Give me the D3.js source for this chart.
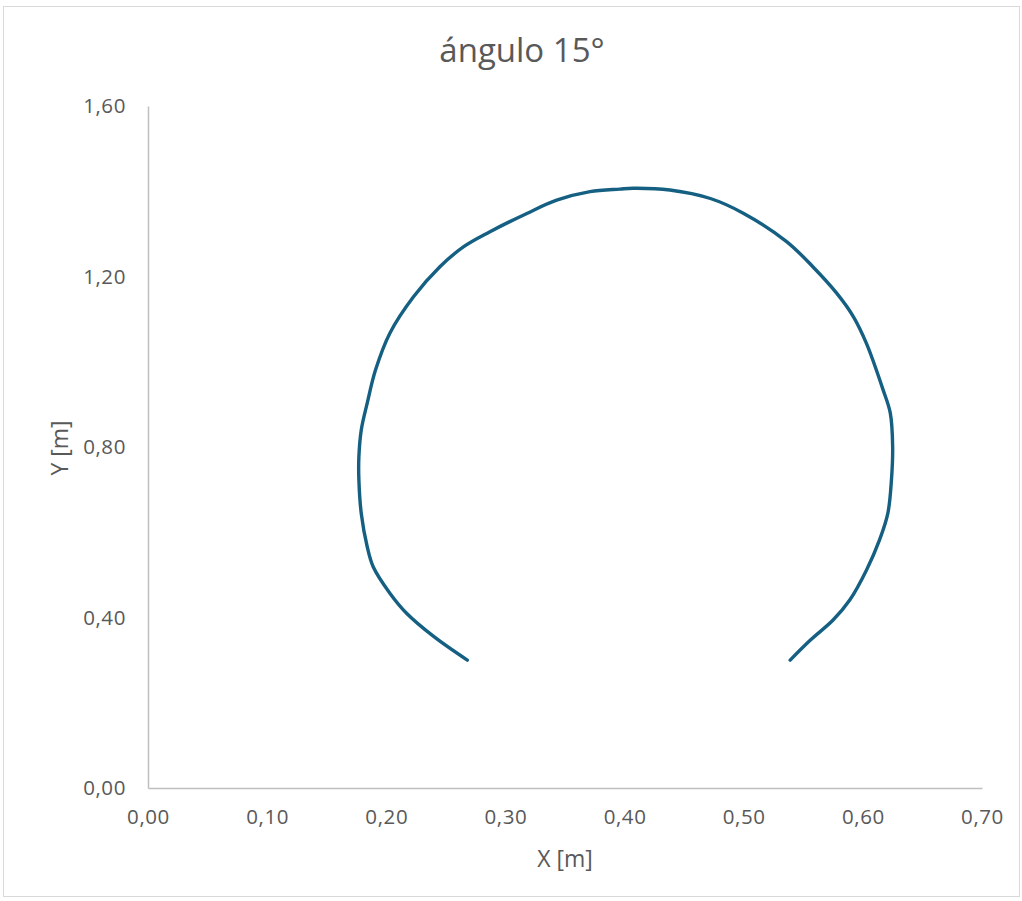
<!DOCTYPE html>
<html>
<head>
<meta charset="utf-8">
<script src="https://cdn.jsdelivr.net/npm/d3@7"></script>
<style>
  body { margin: 0; background: #fff; }
  text { font-family: "Open Sans", "Liberation Sans", sans-serif; }
</style>
</head>
<body>
<svg id="chart" width="1022" height="901"></svg>
<script>
// trajectory points (metres)
const xValues = [0.268, 0.240, 0.217, 0.203, 0.189, 0.184, 0.179, 0.177, 0.177, 0.179,
  0.184, 0.191, 0.203, 0.223, 0.245, 0.265, 0.287, 0.318, 0.343, 0.371, 0.396, 0.407,
  0.438, 0.472, 0.500, 0.536, 0.558, 0.578, 0.592, 0.603, 0.617, 0.623, 0.625, 0.624,
  0.621, 0.614, 0.603, 0.589, 0.575, 0.556, 0.539];
const yValues = [0.300, 0.355, 0.410, 0.457, 0.519, 0.566, 0.644, 0.723, 0.777, 0.840,
  0.903, 0.981, 1.067, 1.153, 1.223, 1.270, 1.305, 1.348, 1.379, 1.399, 1.405, 1.407,
  1.403, 1.383, 1.348, 1.282, 1.223, 1.161, 1.106, 1.043, 0.934, 0.880, 0.801, 0.723,
  0.645, 0.582, 0.511, 0.441, 0.394, 0.347, 0.300];
const xTicks = [0, 0.1, 0.2, 0.3, 0.4, 0.5, 0.6, 0.7];
const yTicks = [0, 0.4, 0.8, 1.2, 1.6];
const title = 'ángulo 15°';

const svg = d3.select('#chart');
const fmt = v => v.toFixed(2).replace('.', ',');

// outer chart border
svg.append('rect')
  .attr('x', 3.5).attr('y', 6.5)
  .attr('width', 1016).attr('height', 890)
  .style('fill', '#fff')
  .style('stroke', '#d9d9d9')
  .style('stroke-width', 1);

const x = d3.scaleLinear().domain([0, 0.7]).range([148, 982]);
const y = d3.scaleLinear().domain([0, 1.6]).range([788, 106]);

// axes
const xAxis = svg.append('g')
  .attr('transform', `translate(0,${y(0)})`)
  .call(d3.axisBottom(x).tickValues(xTicks).tickFormat(fmt).tickSize(0).tickPadding(21));
const yAxis = svg.append('g')
  .attr('transform', `translate(${x(0)},0)`)
  .call(d3.axisLeft(y).tickValues(yTicks).tickFormat(fmt).tickSize(0).tickPadding(22));

[xAxis, yAxis].forEach(a => {
  a.select('.domain').style('stroke', '#bfbfbf').style('stroke-width', 1.5);
  a.selectAll('text')
    .style('font-size', '20.5px')
    .style('letter-spacing', '0.6px')
    .style('fill', '#595959');
});

// curve
const points = xValues.map((v, i) => [v, yValues[i]]);
const line = d3.line()
  .x(d => x(d[0]))
  .y(d => y(d[1]))
  .curve(d3.curveCatmullRom.alpha(0.5));

svg.append('path')
  .datum(points)
  .attr('d', line)
  .style('fill', 'none')
  .style('stroke', '#156082')
  .style('stroke-width', 3.4)
  .style('stroke-linecap', 'round')
  .style('stroke-linejoin', 'round');

// title and axis labels
svg.append('text')
  .attr('x', 522).attr('y', 62)
  .attr('text-anchor', 'middle')
  .style('font-size', '33px')
  .style('fill', '#595959')
  .text(title);

svg.append('text')
  .attr('x', 565).attr('y', 867)
  .attr('text-anchor', 'middle')
  .style('font-size', '23px')
  .style('fill', '#595959')
  .text('X [m]');

svg.append('text')
  .attr('transform', 'translate(68,448) rotate(-90)')
  .attr('text-anchor', 'middle')
  .style('font-size', '23px')
  .style('fill', '#595959')
  .text('Y [m]');
</script>
</body>
</html>
